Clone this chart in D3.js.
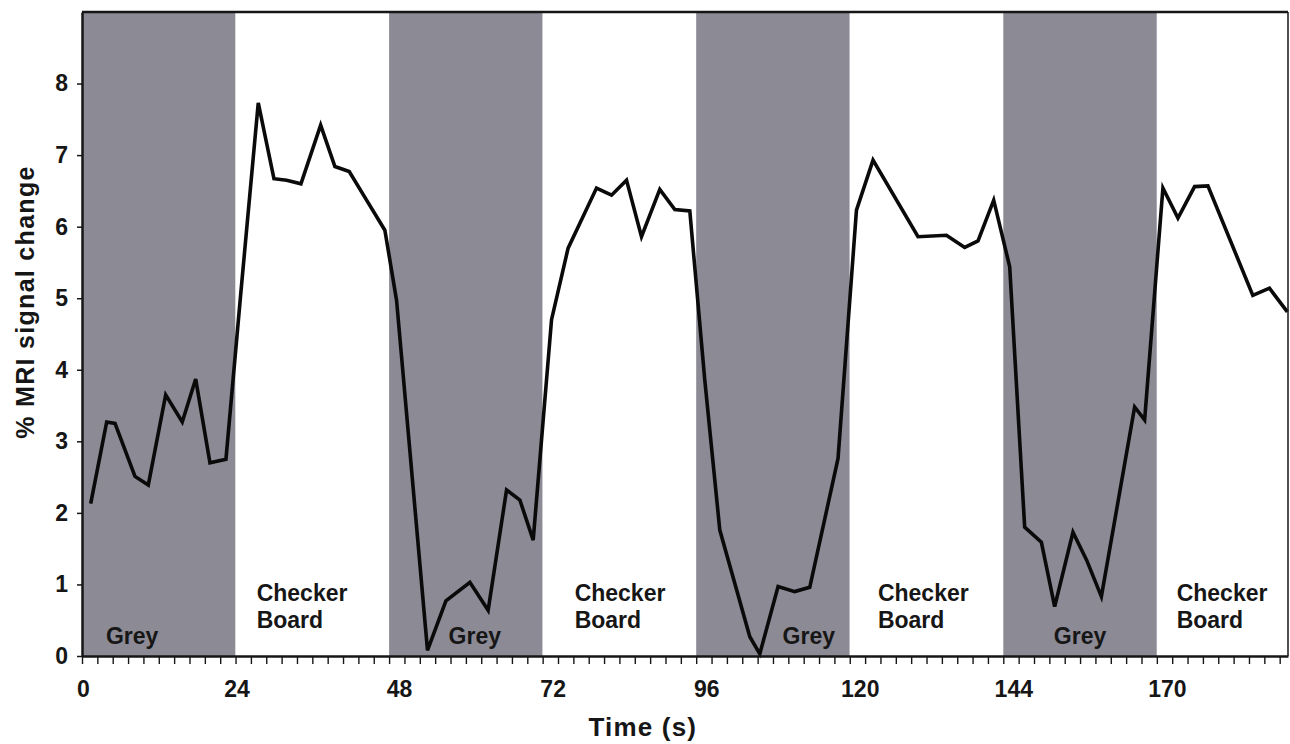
<!DOCTYPE html>
<html>
<head>
<meta charset="utf-8">
<script src="https://cdn.jsdelivr.net/npm/d3@7"></script>
<style>
body { margin: 0; background: #fff; }
svg { display: block; font-family: "Liberation Sans", Arial, Helvetica, sans-serif; font-weight: bold; }
</style>
</head>
<body>
<svg id="chart"></svg>
<script>
// block design, 24 s blocks
var blockStarts = [0, 24, 48, 72, 96, 120, 144, 168];
var blockEnds = [24, 48, 72, 96, 120, 144, 168, 188.5];
var blockTypes = ["grey", "checker", "grey", "checker", "grey", "checker", "grey", "checker"];
var blockLabelTimes = [3.75, 27.3, 57.3, 77.0, 109.5, 124.4, 151.9, 171.1];

// % MRI signal change over time (s)
var times = [1.36, 3.86, 5.16, 8.28, 10.36, 13.08, 15.67, 17.77, 20.0, 22.5,
  24.84, 27.55, 30.0, 31.98, 34.22, 37.3, 39.53, 41.77, 44.48, 47.34,
  49.17, 54.0, 56.88, 60.63, 63.48, 66.36, 68.44, 70.52, 73.39, 75.98,
  80.42, 82.77, 85.11, 87.45, 90.31, 92.66, 95.0, 97.34, 99.69, 104.38,
  105.94, 108.8, 111.4, 113.75, 118.17, 121.05, 123.64, 130.67, 135.11, 137.97,
  140.05, 142.5, 145.0, 147.34, 149.95, 152.03, 154.89, 157.03, 159.33, 164.53,
  166.09, 168.95, 171.3, 173.9, 175.98, 183.0, 185.6, 188.4];
var signal = [2.13, 3.27, 3.25, 2.51, 2.39, 3.65, 3.27, 3.87, 2.70, 2.75,
  5.09, 7.73, 6.67, 6.65, 6.60, 7.42, 6.84, 6.77, 6.37, 5.95,
  4.97, 0.08, 0.77, 1.03, 0.64, 2.32, 2.18, 1.62, 4.70, 5.70,
  6.54, 6.44, 6.65, 5.86, 6.52, 6.24, 6.22, 3.86, 1.76, 0.27,
  0.03, 0.97, 0.90, 0.96, 2.76, 6.23, 6.93, 5.86, 5.88, 5.71,
  5.80, 6.37, 5.44, 1.80, 1.59, 0.69, 1.73, 1.34, 0.83, 3.48,
  3.30, 6.54, 6.12, 6.56, 6.57, 5.04, 5.14, 4.81];

var xTickValues = [0, 24, 48, 72, 96, 120, 144, 168];
var xTickLabels = ["0", "24", "48", "72", "96", "120", "144", "170"];
var yTickValues = [0, 1, 2, 3, 4, 5, 6, 7, 8];

var W = 1290, H = 744;
var m = {t: 12, r: 2, b: 88, l: 82};
var w = W - m.l - m.r, h = H - m.t - m.b;
var ink = "#161616";

var svg = d3.select("#chart").attr("width", W).attr("height", H);
var g = svg.append("g").attr("transform", "translate(" + m.l + "," + m.t + ")");

var x = d3.scaleLinear().domain([0, 188.5]).range([0, w]);
var y = d3.scaleLinear().domain([0, 9]).range([h, 0]);

// grey stimulus blocks
g.selectAll(".block")
  .data(blockStarts.map(function(s, i) { return {s: s, e: blockEnds[i], type: blockTypes[i]}; }))
  .join("rect")
  .attr("class", "block")
  .attr("x", function(d) { return x(d.s); })
  .attr("y", 0)
  .attr("width", function(d) { return x(d.e) - x(d.s); })
  .attr("height", h)
  .attr("fill", function(d) { return d.type == "grey" ? "#8b8a95" : "#fff"; });

// block labels
var lab = g.selectAll(".blab")
  .data(blockTypes.map(function(t, i) { return {type: t, t: blockLabelTimes[i]}; }))
  .join("text")
  .attr("class", "blab")
  .attr("x", function(d) { return x(d.t); })
  .attr("font-size", 23)
  .attr("fill", ink);
lab.filter(function(d) { return d.type == "grey"; })
  .attr("y", h - 12)
  .text("Grey");
lab.filter(function(d) { return d.type == "checker"; })
  .each(function(d) {
    var t = d3.select(this);
    t.append("tspan").attr("x", x(d.t)).attr("y", h - 55).text("Checker");
    t.append("tspan").attr("x", x(d.t)).attr("y", h - 28).text("Board");
  });

// the signal trace
var line = d3.line()
  .x(function(d, i) { return x(times[i]); })
  .y(function(d) { return y(d); });

g.append("path")
  .datum(signal)
  .attr("d", line)
  .attr("fill", "none")
  .attr("stroke", "#0a0a0a")
  .attr("stroke-width", 3.6)
  .attr("stroke-linejoin", "miter");

// top + right frame
g.append("line").attr("x1", 0).attr("x2", w).attr("y1", 0).attr("y2", 0)
  .attr("stroke", ink).attr("stroke-width", 2.5);
g.append("line").attr("x1", w).attr("x2", w).attr("y1", 0).attr("y2", h)
  .attr("stroke", ink).attr("stroke-width", 1.5);

// x axis: minor ticks every 2.4 s, labels every 24 s
var xMinor = g.append("g")
  .attr("transform", "translate(0," + h + ")")
  .call(d3.axisBottom(x).tickValues(d3.range(0, 188.5, 2.4)).tickSize(8).tickSizeOuter(0).tickFormat(""));
xMinor.select(".domain").attr("stroke", ink).attr("stroke-width", 2.5);
xMinor.selectAll(".tick line").attr("stroke", ink).attr("stroke-width", 1.4);

var xAxis = g.append("g")
  .attr("transform", "translate(0," + h + ")")
  .call(d3.axisBottom(x).tickValues(xTickValues).tickSize(0).tickPadding(25)
    .tickFormat(function(d, i) { return xTickLabels[i]; }));
xAxis.select(".domain").remove();
xAxis.selectAll("text")
  .attr("font-size", 23)
  .attr("font-weight", "bold")
  .attr("font-family", "Liberation Sans, Arial, sans-serif")
  .attr("fill", ink)
  .attr("dx", function(d, i) { return i < 2 ? 1 : 10; });

// y axis
var yAxis = g.append("g")
  .call(d3.axisLeft(y).tickValues(yTickValues).tickSize(5).tickSizeOuter(0).tickPadding(9));
yAxis.select(".domain").attr("stroke", ink).attr("stroke-width", 2.5);
yAxis.selectAll(".tick line").attr("stroke", ink).attr("stroke-width", 1.5);
yAxis.selectAll("text")
  .attr("font-size", 23)
  .attr("font-weight", "bold")
  .attr("font-family", "Liberation Sans, Arial, sans-serif")
  .attr("fill", ink);

// axis titles
svg.append("text")
  .attr("transform", "translate(34," + (m.t + 290) + ") rotate(-90)")
  .attr("text-anchor", "middle")
  .attr("font-size", 25)
  .attr("letter-spacing", 1.3)
  .attr("fill", ink)
  .text("% MRI signal change");

svg.append("text")
  .attr("x", m.l + w * 0.465)
  .attr("y", 736)
  .attr("text-anchor", "middle")
  .attr("font-size", 26)
  .attr("letter-spacing", 1.2)
  .attr("fill", ink)
  .text("Time (s)");
</script>
</body>
</html>
